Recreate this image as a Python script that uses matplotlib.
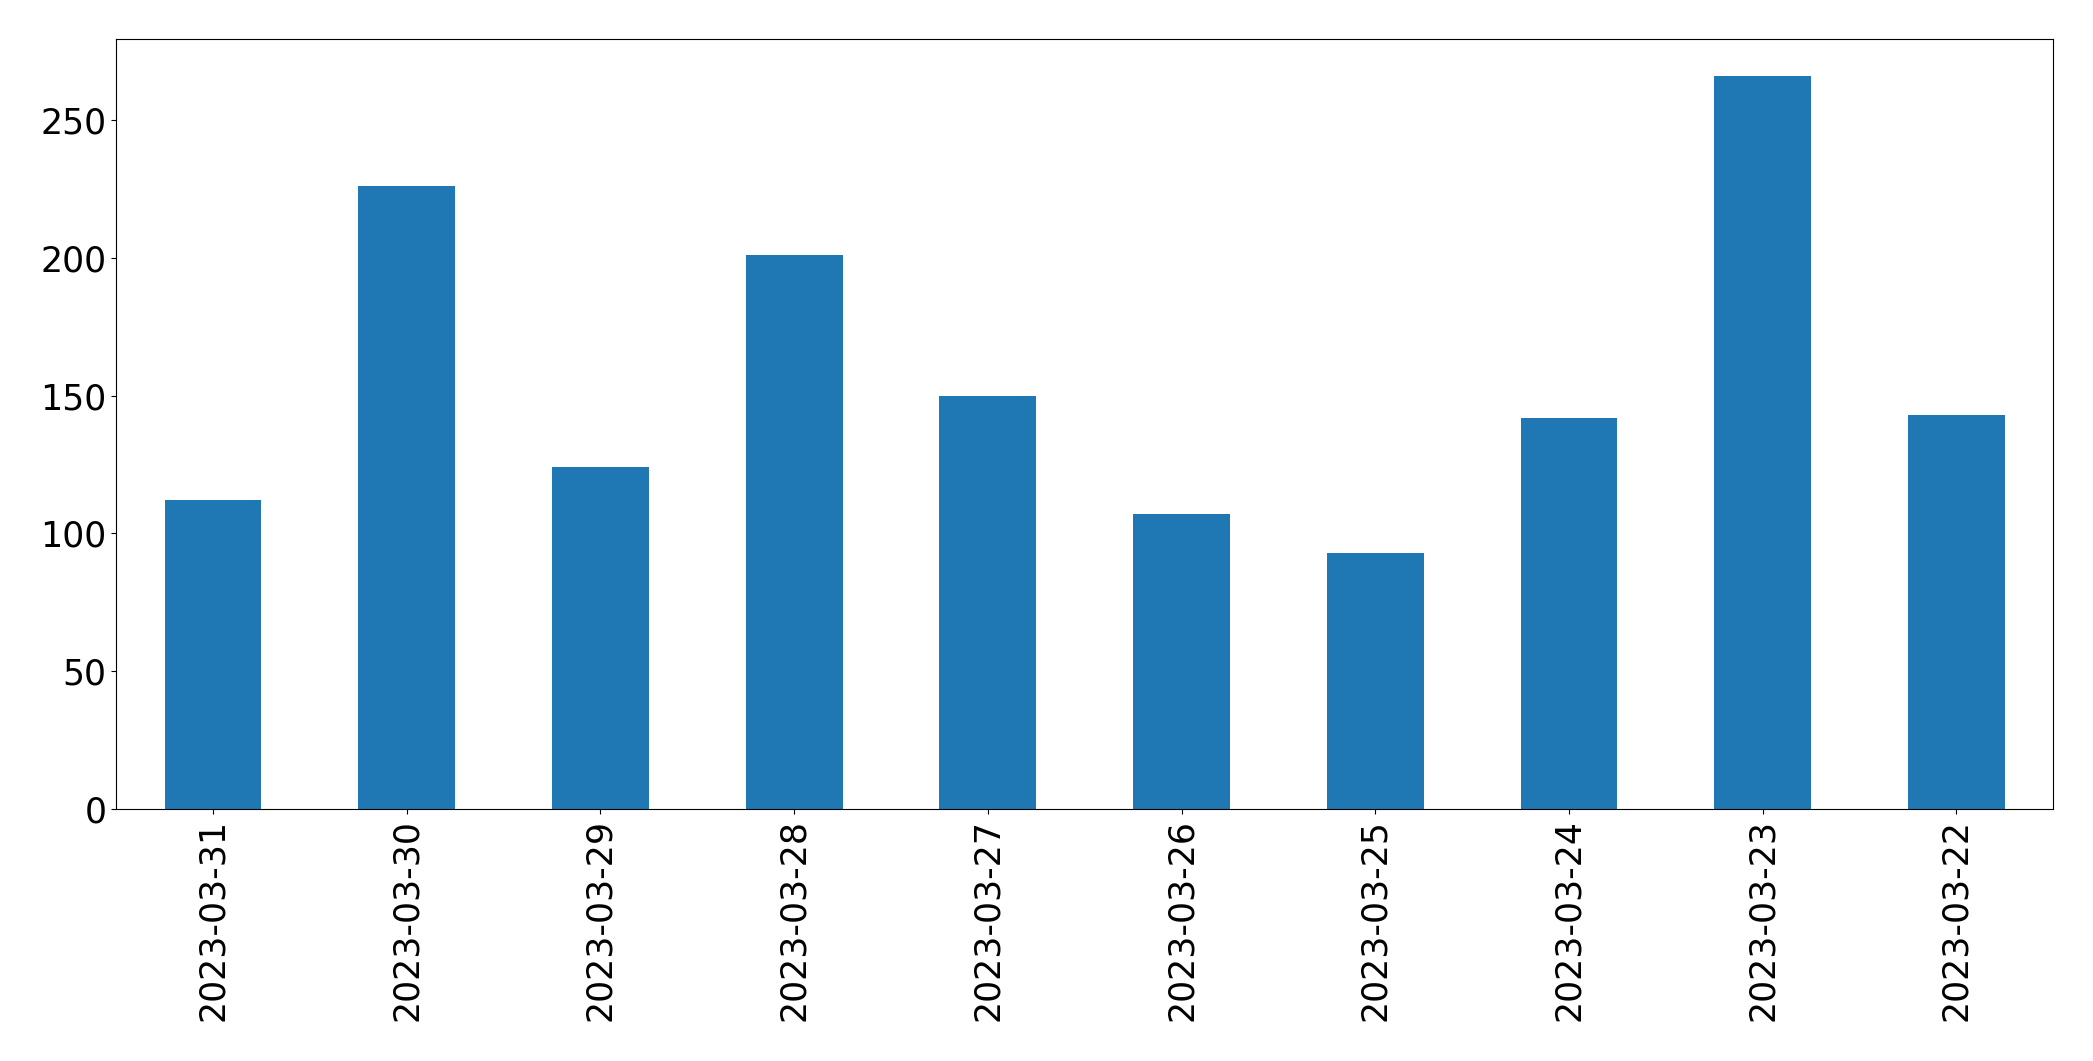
import pandas as pd
import matplotlib
matplotlib.use("Agg")
import matplotlib.pyplot as plt

# daily counts, newest first (as in the reference)
dates = ["2023-03-31", "2023-03-30", "2023-03-29", "2023-03-28", "2023-03-27",
         "2023-03-26", "2023-03-25", "2023-03-24", "2023-03-23", "2023-03-22"]
counts = [112, 226, 124, 201, 150, 107, 93, 142, 266, 143]

plt.rcParams['font.size'] = 25

s = pd.Series(counts, index=dates)

fig, ax = plt.subplots(figsize=(20.93, 10.61), dpi=100)
s.plot.bar(ax=ax, color="#1f77b4", linewidth=0)
ax.tick_params(axis='both', labelsize=25)
ax.set_xlabel("")

fig.subplots_adjust(left=0.0555, right=0.981, top=0.963, bottom=0.2375)
fig.savefig("out.png", dpi=100)
